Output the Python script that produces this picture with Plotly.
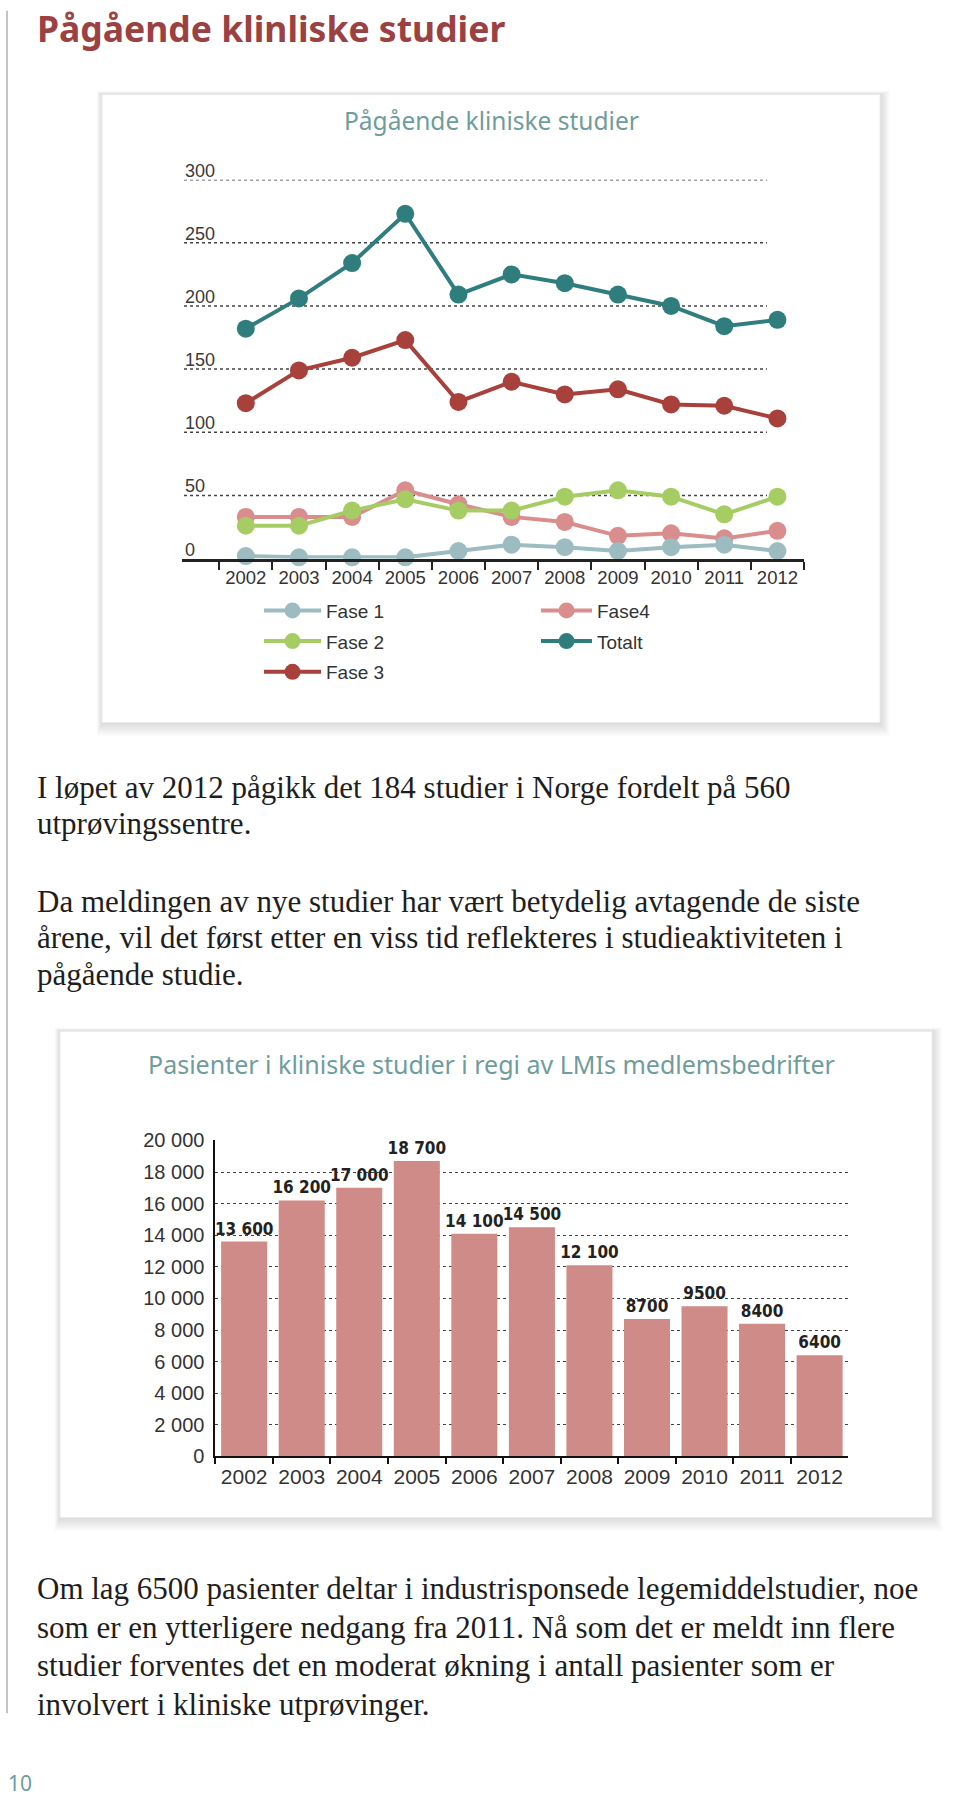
import plotly.graph_objects as go

# ---------------- data ----------------
years = ["2002", "2003", "2004", "2005", "2006", "2007", "2008", "2009", "2010", "2011", "2012"]
fase1 = [2, 1, 1, 1, 6, 11, 9, 6, 9, 11, 6]
fase2 = [26, 26, 38, 47, 38, 38, 49, 54, 49, 35, 49]
fase3 = [123, 149, 159, 173, 124, 140, 130, 134, 122, 121, 111]
fase4 = [33, 33, 33, 54, 43, 33, 29, 18, 20, 16, 22]
totalt = [182, 206, 234, 273, 209, 225, 218, 209, 200, 184, 189]
line_yticks = [0, 50, 100, 150, 200, 250, 300]

patients = [13600, 16200, 17000, 18700, 14100, 14500, 12100, 8700, 9500, 8400, 6400]
patient_labels = ["13 600", "16 200", "17 000", "18 700", "14 100", "14 500", "12 100",
                  "8700", "9500", "8400", "6400"]
bar_yticks = [0, 2000, 4000, 6000, 8000, 10000, 12000, 14000, 16000, 18000, 20000]
bar_yticklabels = ["0", "2 000", "4 000", "6 000", "8 000", "10 000", "12 000",
                   "14 000", "16 000", "18 000", "20 000"]

heading = "Pågående klinliske studier"
line_title = "Pågående kliniske studier"
bar_title = "Pasienter i kliniske studier i regi av LMIs medlemsbedrifter"
para1 = ["I løpet av 2012 pågikk det 184 studier i Norge fordelt på 560",
         "utprøvingssentre."]
para2 = ["Da meldingen av nye studier har vært betydelig avtagende de siste",
         "årene, vil det først etter en viss tid reflekteres i studieaktiviteten i",
         "pågående studie."]
para3 = ["Om lag 6500 pasienter deltar i industrisponsede legemiddelstudier, noe",
         "som er en ytterligere nedgang fra 2011. Nå som det er meldt inn flere",
         "studier forventes det en moderat økning i antall pasienter som er",
         "involvert i kliniske utprøvinger."]
page_number = "10"

# ---------------- helpers ----------------
W, H = 960, 1800
def px(x):
    return x / W
def ymap(y):
    # compensate the slight vertical squeeze seen in the rendered page
    return (y - 10.3) / 0.988
def py(y):
    return 1 - ymap(y) / H

C_F1 = "#9cbcc1"
C_F2 = "#a5cd64"
C_F3 = "#a8403b"
C_F4 = "#d98d8d"
C_TOT = "#2f7e7d"
C_BAR = "#cf8b88"
SANS = "Liberation Sans, Arial, sans-serif"
NARROW = "Liberation Sans Narrow, DejaVu Sans Condensed, Roboto Condensed, Arial Narrow, Liberation Sans, sans-serif"
TITLE_SANS = "Noto Sans, Open Sans, sans-serif"
SERIF = "Liberation Serif, Times New Roman, serif"

fig = go.Figure()

series = [
    ("Fase4", fase4, C_F4, "legend2", 1),
    ("Fase 1", fase1, C_F1, "legend", 1),
    ("Fase 2", fase2, C_F2, "legend", 2),
    ("Fase 3", fase3, C_F3, "legend", 3),
    ("Totalt", totalt, C_TOT, "legend2", 2),
]
for name, vals, col, leg, rank in series:
    fig.add_trace(go.Scatter(
        x=years, y=vals, name=name, mode="lines+markers",
        line=dict(color=col, width=4),
        marker=dict(color=col, size=18),
        xaxis="x", yaxis="y", cliponaxis=False,
        legend=leg, legendrank=rank, legendgroup=name,
    ))

fig.add_trace(go.Bar(
    x=years, y=patients, text=patient_labels, textposition="outside",
    constraintext="none", cliponaxis=False,
    textfont=dict(family=NARROW, size=17, color="#222222", weight="bold"),
    marker=dict(color=C_BAR, line=dict(width=0)),
    xaxis="x2", yaxis="y2", showlegend=False,
))

# ---------------- card shapes ----------------
shapes = []
def card(x0, y0, x1, y1):
    for i in range(1, 10):
        shapes.append(dict(type="rect", xref="paper", yref="paper", layer="below",
                           x0=px(x0 - i * 0.6), x1=px(x1 + i * 1.1),
                           y0=py(y1 + i * 1.5), y1=py(y0 - i * 0.4),
                           line=dict(width=0), fillcolor="rgba(0,0,0,0.017)"))
    shapes.append(dict(type="rect", xref="paper", yref="paper", layer="below",
                       x0=px(x0), x1=px(x1), y0=py(y1), y1=py(y0),
                       line=dict(width=1, color="#ececec"), fillcolor="white"))

card(102, 94, 880, 722)
card(60, 1031, 932, 1517)

# line chart gridlines (shorter than the axis line)
for v in line_yticks[1:]:
    shapes.append(dict(type="line", xref="x domain", yref="y", layer="below",
                       x0=(184 - 182) / 622, x1=(767 - 182) / 622, y0=v, y1=v,
                       line=dict(color="#444444", width=1.5, dash="dot")))

# left page rule
shapes.append(dict(type="line", xref="paper", yref="paper", x0=px(7), x1=px(7),
                   y0=py(10), y1=py(1713), line=dict(color="#b0b0b0", width=1.5)))

# ---------------- annotations ----------------
ann = []
ann.append(dict(text=heading, x=px(35), y=py(27), xref="paper", yref="paper",
                xanchor="left", yanchor="middle", showarrow=False,
                font=dict(family=TITLE_SANS, size=35.5, color="#9b4141", weight="bold")))
ann.append(dict(text=line_title, x=px(491), y=py(120), xref="paper", yref="paper",
                xanchor="center", yanchor="middle", showarrow=False,
                font=dict(family=TITLE_SANS, size=24.5, color="#6f9c9d")))
ann.append(dict(text=bar_title, x=px(491), y=py(1064), xref="paper", yref="paper",
                xanchor="center", yanchor="middle", showarrow=False,
                font=dict(family=TITLE_SANS, size=25, color="#6f9c9d")))

# line chart value-axis labels sitting on top of their gridlines
for v in line_yticks:
    ann.append(dict(text=str(v), x=px(183), y=v, xref="paper", yref="y",
                    xanchor="left", yanchor="bottom", yshift=-3, showarrow=False,
                    font=dict(family=SANS, size=18, color="#3a3a3a")))

def para(lines, y0, dy):
    for i, t in enumerate(lines):
        ann.append(dict(text=t, x=px(35), y=py(y0 + i * dy), xref="paper", yref="paper",
                        xanchor="left", yanchor="middle", showarrow=False,
                        font=dict(family=SERIF, size=31, color="#1e1e1e")))

para(para1, 787, 36)
para(para2, 901, 36.3)
para(para3, 1588, 38.7)

ann.append(dict(text=page_number, x=px(6), y=py(1783), xref="paper", yref="paper",
                xanchor="left", yanchor="middle", showarrow=False,
                font=dict(family=TITLE_SANS, size=21, color="#6f9aa0")))

fig.update_layout(
    width=W, height=H, margin=dict(l=0, r=0, t=0, b=0),
    paper_bgcolor="white", plot_bgcolor="rgba(0,0,0,0)",
    shapes=shapes, annotations=ann, bargap=0.2,
    font=dict(family=SANS, color="#333333"),
    xaxis=dict(domain=[px(182), px(804)], anchor="y", type="category",
               range=[-1.2, 10.5], tickson="boundaries", ticks="outside",
               ticklen=8, tickwidth=2, tickcolor="#222222",
               showline=True, linecolor="#222222", linewidth=3,
               showgrid=False, zeroline=False,
               tickfont=dict(family=SANS, size=18.5, color="#333333")),
    yaxis=dict(domain=[py(558), py(179)], anchor="x", range=[0, 300],
               showticklabels=False, ticks="", showgrid=False, zeroline=False,
               showline=False),
    xaxis2=dict(domain=[px(215.4), px(848.4)], anchor="y2", type="category",
                tickson="boundaries", ticks="outside", ticklen=6, tickwidth=2,
                tickcolor="#111111", showline=True, linecolor="#111111", linewidth=2,
                showgrid=False, zeroline=False,
                tickfont=dict(family=SANS, size=21, color="#333333")),
    yaxis2=dict(domain=[py(1456), py(1140)], anchor="x2", range=[0, 20000],
                tickvals=bar_yticks, ticktext=bar_yticklabels,
                ticks="outside", ticklen=5, tickcolor="rgba(0,0,0,0)",
                showline=True, linecolor="#111111", linewidth=2,
                showgrid=True, gridcolor="#444444", griddash="dot", gridwidth=1.2,
                zeroline=False,
                tickfont=dict(family=SANS, size=20, color="#333333")),
    legend=dict(x=px(259), y=py(591), xanchor="left", yanchor="top",
                orientation="v", bgcolor="rgba(0,0,0,0)", tracegroupgap=3,
                itemwidth=57, font=dict(family=SANS, size=19, color="#333333")),
    legend2=dict(x=px(536), y=py(591), xanchor="left", yanchor="top",
                 orientation="v", bgcolor="rgba(0,0,0,0)", tracegroupgap=3,
                 itemwidth=51, font=dict(family=SANS, size=19, color="#333333")),
)

fig.write_html("out.html", config={"displayModeBar": False},
               post_script="document.body.style.margin='0px';")
